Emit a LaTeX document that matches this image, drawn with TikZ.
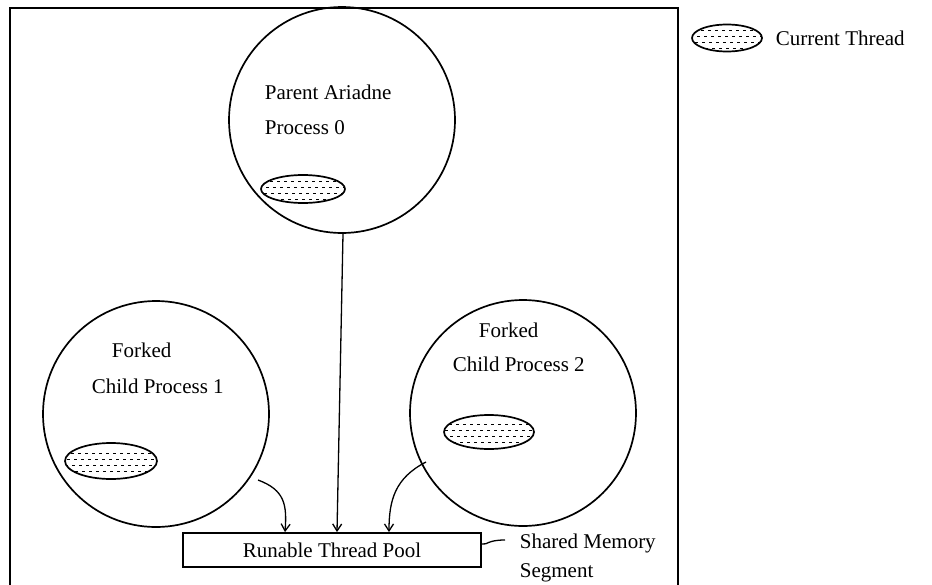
\documentclass[tikz,border=0pt]{standalone}
\usepackage{fontspec}
\setmainfont{Liberation Serif}
\usetikzlibrary{arrows.meta,shapes.geometric}
\begin{document}
\begin{tikzpicture}[x=1pt,y=-1pt,
  line width=1.7pt,
  proc/.style={draw, circle, minimum size=226pt, inner sep=0pt},
  lbl/.style={anchor=west, inner sep=0pt, font=\fontsize{21}{25}\selectfont},
  thread/.style={draw, ellipse, minimum width=#1, minimum height=30pt, inner sep=0pt,
    path picture={
      \foreach \yy/\ph in {-10/0,-4/3,2/1,8/4}
        \draw[line width=1pt, dash pattern=on 2.5pt off 4.5pt, dash phase=\ph pt]
          ([xshift=-50pt,yshift=\yy pt]path picture bounding box.center) --
          ([xshift=50pt,yshift=\yy pt]path picture bounding box.center);
    }},
  flow/.style={line width=1.3pt, -{Straight Barb[length=7pt,width=9pt]}}
]
\useasboundingbox (0,0) rectangle (932,584);

% outer frame, open at the bottom
\draw[line width=2pt] (10,600) -- (10,8) -- (678,8) -- (678,600);

% processes
\node[proc] (parent) at (342,120) {};
\node[proc] (child1) at (156,414) {};
\node[proc] (child2) at (523,413) {};

\node[lbl] (ptext1) at (264,92) {Parent Ariadne};
\node[lbl] (ptext2) at (264,128) {Process 0};
\node[lbl] (c1text1) at (111,350) {Forked};
\node[lbl] (c1text2) at (91,386) {Child Process 1};
\node[lbl] (c2text1) at (478,330) {Forked};
\node[lbl] (c2text2) at (452,364) {Child Process 2};

% current threads
\node[thread=84pt, minimum height=28pt] (t0) at (303,189) {};
\node[thread=92pt, minimum height=36pt] (t1) at (111,461) {};
\node[thread=90pt, minimum height=34pt] (t2) at (489,432) {};

% shared pool
\node[draw, line width=1.8pt, minimum width=298pt, minimum height=34pt, inner sep=0pt,
      font=\fontsize{21}{25}\selectfont] (pool) at (332,550) {Runable Thread Pool};

% threads handed to the pool
\coordinate (s1) at (258,480);
\coordinate (s2) at (426,462);
\draw[flow] (parent.south) ++(1,0) -- (pool.north -| 337,0);
\draw[flow] (s1) .. controls (285,490) and (287,505) .. (pool.north -| 285,0);
\draw[flow] (s2) .. controls (395,478) and (389,500) .. (pool.north -| 389,0);

% shared memory label
\coordinate (hook) at (505,540);
\draw[line width=1.3pt] ([yshift=6pt]pool.east) .. controls (488,545) and (487,540) .. (hook);
\node[lbl] (shm1) at (519,543) {Shared Memory};
\node[lbl] (shm2) at (519,573) {Segment};

% legend
\node[thread=70pt, minimum height=27pt] (legend) at (727,38) {};
\node[lbl] (legendtext) at (775,38) {Current Thread};
\end{tikzpicture}
\end{document}
